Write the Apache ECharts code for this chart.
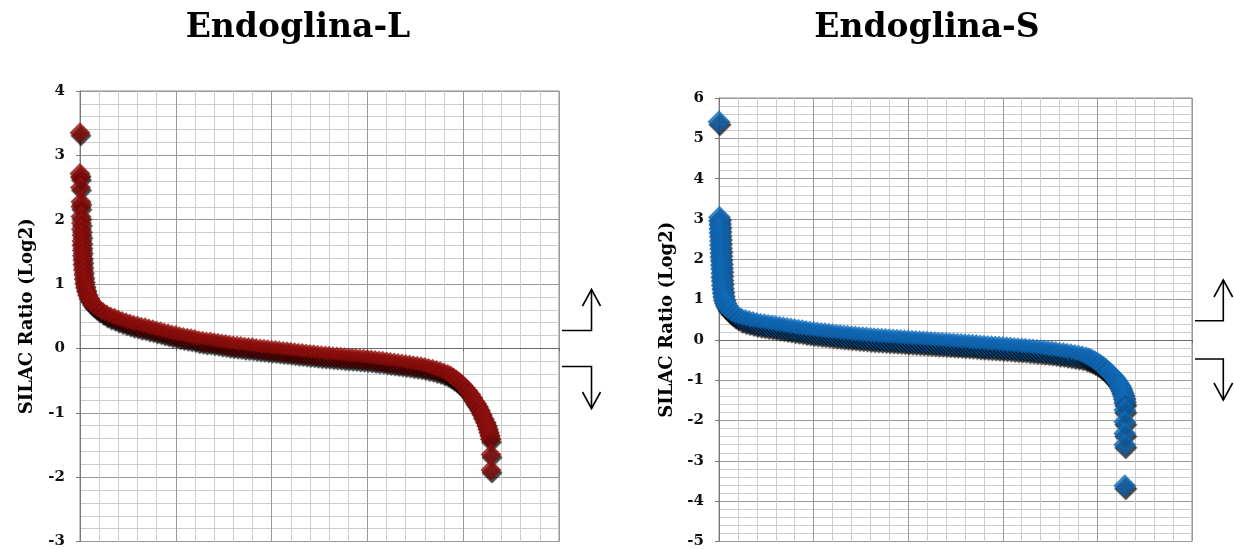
<!DOCTYPE html>
<html>
<head>
<meta charset="utf-8">
<script src="https://cdn.jsdelivr.net/npm/echarts@6/dist/echarts.min.js"></script>
<style>
html,body{margin:0;padding:0;background:#fff;}
#c{width:1234px;height:549px;}
</style>
</head>
<body>
<div id="c"></div>
<script>
// ---- data (rank, SILAC ratio log2) ----
const titles = ['Endoglina-L', 'Endoglina-S'];
const yAxisName = 'SILAC Ratio (Log2)';

const endoglinaL = [
 [0,3.35],[0,2.72],[0.5,2.66],[0.5,2.5],[1,2.28],[1,2.2],[1,2.05],[1.5,1.95],[1.5,1.85],[2,1.76],[2,1.67],[2,1.6],
 [2.5,1.52],[2.5,1.44],[3,1.37],[3,1.3],[3.5,1.22],[4,1.14],[4.5,1.07],[5,1.0],[6,0.94],[7,0.88],[8.5,0.82],[10,0.77],
 [12,0.72],[14,0.68],[17,0.64],[20,0.6],[24,0.56],[28,0.52],[32,0.49],[36,0.47],[40,0.44],[44,0.42],[48,0.4],[52,0.38],
 [56,0.36],[60,0.35],[64,0.33],[68,0.32],[72,0.3],[76,0.29],[80,0.27],[84,0.26],[88,0.24],[92,0.23],[96,0.21],[100,0.2],
 [104,0.18],[108,0.17],[112,0.16],[116,0.15],[120,0.14],[124,0.12],[128,0.11],[132,0.1],[136,0.1],[140,0.09],[144,0.08],
 [148,0.07],[152,0.06],[156,0.05],[160,0.04],[164,0.035],[168,0.03],[172,0.02],[176,0.015],[180,0.01],[184,0.0],[188,-0.01],
 [192,-0.013],[196,-0.02],[200,-0.027],[204,-0.033],[208,-0.04],[212,-0.047],[216,-0.053],[220,-0.06],[224,-0.067],[228,-0.073],
 [232,-0.08],[236,-0.087],[240,-0.093],[244,-0.1],[248,-0.107],[252,-0.113],[256,-0.118],[260,-0.123],[264,-0.128],[268,-0.133],
 [272,-0.138],[276,-0.143],[280,-0.148],[284,-0.153],[288,-0.158],[292,-0.163],[296,-0.168],[300,-0.173],[304,-0.18],[308,-0.187],
 [312,-0.194],[316,-0.201],[320,-0.21],[324,-0.218],[328,-0.226],[332,-0.234],[336,-0.242],[340,-0.25],[344,-0.259],[348,-0.268],
 [352,-0.277],[356,-0.286],[360,-0.296],[364,-0.31],[368,-0.325],[372,-0.342],[376,-0.36],[380,-0.38],[384,-0.405],[387,-0.43],
 [390,-0.46],[393,-0.49],[396,-0.525],[399,-0.565],[402,-0.61],[405,-0.66],[408,-0.72],[410,-0.77],[412,-0.82],[414,-0.86],
 [416,-0.91],[418,-0.97],[420,-1.04],[422,-1.1],[424,-1.16],[425,-1.21],[426,-1.26],[427,-1.31],[428,-1.36],[428.5,-1.41],
 [429,-1.65],[429,-1.89]
];

const endoglinaS = [
 [0,5.41],[0.5,3.04],[0.5,2.95],[1,2.85],[1,2.75],[1,2.65],[1.5,2.55],[1.5,2.45],[1.5,2.35],[2,2.25],[2,2.15],[2,2.05],
 [2.5,1.95],[2.5,1.85],[3,1.75],[3,1.65],[3,1.55],[3.5,1.45],[3.5,1.35],[4,1.25],[4.5,1.15],[5,1.06],[6,0.98],[7,0.91],
 [8.5,0.85],[10,0.79],[12,0.73],[14,0.68],[17,0.62],[20,0.57],[24,0.51],[28,0.48],[32,0.455],[36,0.43],[40,0.41],[44,0.39],
 [48,0.375],[52,0.36],[56,0.345],[60,0.33],[64,0.315],[68,0.3],[72,0.285],[76,0.27],[80,0.255],[84,0.24],[88,0.225],[92,0.21],
 [96,0.197],[100,0.185],[104,0.173],[108,0.161],[112,0.15],[116,0.139],[120,0.128],[124,0.117],[128,0.107],[132,0.097],
 [136,0.088],[140,0.079],[144,0.07],[148,0.062],[152,0.054],[156,0.046],[160,0.038],[164,0.03],[168,0.022],[172,0.015],
 [176,0.008],[180,0.001],[184,-0.005],[188,-0.011],[192,-0.017],[196,-0.023],[200,-0.029],[204,-0.035],[208,-0.041],[212,-0.047],
 [216,-0.053],[220,-0.06],[224,-0.066],[228,-0.072],[232,-0.078],[236,-0.084],[240,-0.09],[244,-0.096],[248,-0.102],[252,-0.108],
 [256,-0.114],[260,-0.12],[264,-0.127],[268,-0.134],[272,-0.141],[276,-0.148],[280,-0.155],[284,-0.162],[288,-0.169],[292,-0.176],
 [296,-0.183],[300,-0.19],[304,-0.196],[308,-0.203],[312,-0.21],[316,-0.218],[320,-0.226],[324,-0.234],[328,-0.242],[332,-0.25],
 [336,-0.26],[340,-0.27],[344,-0.28],[348,-0.29],[352,-0.3],[356,-0.315],[360,-0.33],[364,-0.34],[368,-0.355],[372,-0.37],
 [376,-0.385],[380,-0.4],[384,-0.42],[388,-0.445],[391,-0.47],[394,-0.5],[397,-0.535],[400,-0.575],[403,-0.62],[406,-0.67],
 [409,-0.73],[412,-0.8],[414,-0.845],[416,-0.89],[418,-0.94],[420,-1.0],[422,-1.07],[424,-1.14],[425,-1.2],[426,-1.26],
 [427,-1.32],[428,-1.4],[428.5,-1.48],[429,-1.56],[429,-1.74],[429,-2.03],[429,-2.32],[429,-2.6],[429,-3.62]
];

const yRangeL = [-3, 4];
const yRangeS = [-5, 6];
const xRange = [0, 500];

// ---- chart ----
const chart = echarts.init(document.getElementById('c'), null, {renderer: 'canvas'});
const serif = '"DejaVu Serif", "Liberation Serif", serif';
const majorC = '#999999', minorC = '#cdcdcd';

function xAx(gi) {
  return {
    gridIndex: gi, type: 'value', min: xRange[0], max: xRange[1], interval: 100,
    axisLabel: {show: false},
    axisLine: {show: true, onZero: true, lineStyle: {color: '#6a6a6a', width: 1}},
    axisTick: {show: true, length: 3, lineStyle: {color: '#6a6a6a'}},
    splitLine: {show: true, lineStyle: {color: majorC, width: 1}},
    minorTick: {show: false, splitNumber: 5},
    minorSplitLine: {show: true, lineStyle: {color: minorC, width: 1}}
  };
}
function yAx(gi, rng, gap) {
  return {
    gridIndex: gi, type: 'value', min: rng[0], max: rng[1], interval: 1,
    name: yAxisName, nameLocation: 'middle', nameGap: gap, nameRotate: 90,
    nameTextStyle: {fontFamily: serif, fontWeight: 'bold', fontSize: 18, color: '#000'},
    axisLabel: {fontFamily: serif, fontWeight: 'bold', fontSize: 15, color: '#111', margin: 15},
    axisLine: {show: true, lineStyle: {color: '#7a7a7a', width: 1}},
    axisTick: {show: true, length: 4, lineStyle: {color: '#7a7a7a'}},
    splitLine: {show: true, lineStyle: {color: majorC, width: 1}},
    minorTick: {show: false, splitNumber: 5},
    minorSplitLine: {show: true, lineStyle: {color: minorC, width: 1}}
  };
}
function grad(c1, c2) {
  return {type: 'linear', x: 0, y: 0, x2: 0, y2: 1,
    colorStops: [{offset: 0, color: c1}, {offset: 1, color: c2}]};
}

function arrowUp(x0, x1, y, ytip, hh, hw) {
  return [
    {type: 'polyline', shape: {points: [[x0, y], [x1, y], [x1, ytip]]},
     style: {stroke: '#000', lineWidth: 1.6, fill: null}},
    {type: 'polyline', shape: {points: [[x1 - hw, ytip + hh], [x1, ytip], [x1 + hw, ytip + hh]]},
     style: {stroke: '#000', lineWidth: 1.6, fill: null}}
  ];
}
function arrowDown(x0, x1, y, ytip, hh, hw) {
  return [
    {type: 'polyline', shape: {points: [[x0, y], [x1, y], [x1, ytip]]},
     style: {stroke: '#000', lineWidth: 1.6, fill: null}},
    {type: 'polyline', shape: {points: [[x1 - hw, ytip - hh], [x1, ytip], [x1 + hw, ytip - hh]]},
     style: {stroke: '#000', lineWidth: 1.6, fill: null}}
  ];
}

const option = {
  animation: false,
  backgroundColor: '#fff',
  grid: [
    {left: 80, top: 91, width: 479, height: 452, show: true, borderColor: '#8a8a8a', borderWidth: 1, backgroundColor: 'transparent'},
    {left: 719, top: 98, width: 473, height: 444, show: true, borderColor: '#8a8a8a', borderWidth: 1, backgroundColor: 'transparent'}
  ],
  xAxis: [xAx(0), xAx(1)],
  yAxis: [yAx(0, yRangeL, 44), yAx(1, yRangeS, 43)],
  series: [
    {type: 'scatter', xAxisIndex: 0, yAxisIndex: 0, data: endoglinaL, symbol: 'diamond', symbolSize: 21,
     itemStyle: {color: grad('#98120f', '#760505'), shadowColor: 'rgba(0,0,0,0.9)', shadowBlur: 1, shadowOffsetX: 1, shadowOffsetY: 3}},
    {type: 'scatter', xAxisIndex: 1, yAxisIndex: 1, data: endoglinaS, symbol: 'diamond', symbolSize: 23,
     itemStyle: {color: grad('#1270c0', '#0a58a0'), shadowColor: 'rgba(0,0,0,0.9)', shadowBlur: 1, shadowOffsetX: 1, shadowOffsetY: 3}}
  ],
  graphic: [
    {type: 'text', x: 298, y: 28, style: {text: titles[0], font: 'bold 33px ' + serif, fill: '#000', align: 'center', verticalAlign: 'middle'}},
    {type: 'text', x: 927, y: 28, style: {text: titles[1], font: 'bold 33px ' + serif, fill: '#000', align: 'center', verticalAlign: 'middle'}},
    ...arrowUp(562, 591.5, 330.5, 289.5, 16.5, 9),
    ...arrowDown(562, 591.5, 366.5, 408.5, 16.5, 9),
    ...arrowUp(1195, 1223.3, 320.7, 280, 17, 9.3),
    ...arrowDown(1195, 1223.3, 359, 400, 17, 9.3)
  ]
};
chart.setOption(option);
</script>
</body>
</html>
